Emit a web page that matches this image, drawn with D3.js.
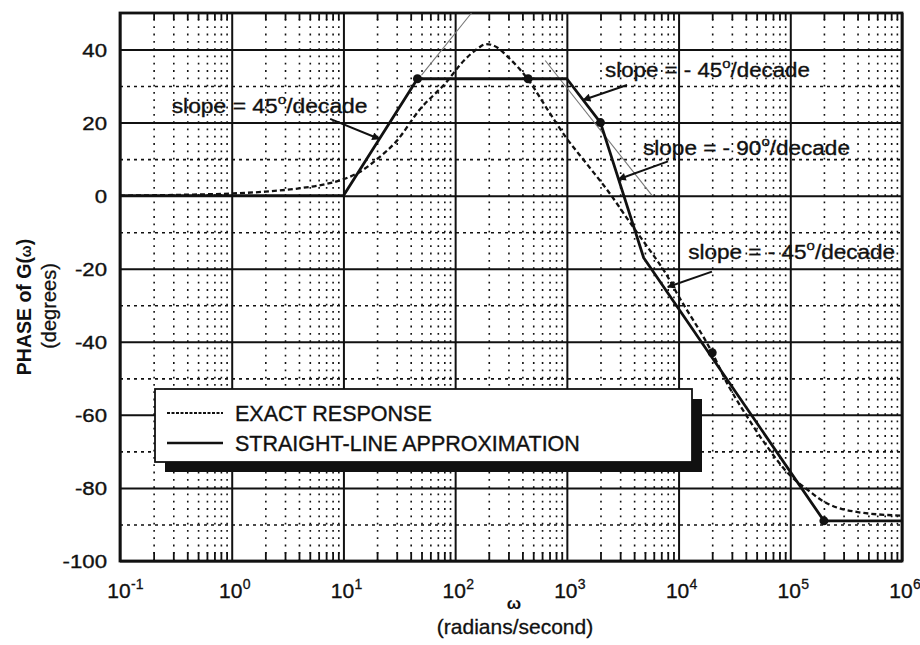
<!DOCTYPE html>
<html><head><meta charset="utf-8">
<script src="https://cdn.jsdelivr.net/npm/d3@7"></script>
<style>
body{margin:0;background:#fff}
svg{display:block}
text{font-family:"Liberation Sans",Arial,Helvetica,sans-serif;fill:#111}
</style>
</head><body>
<svg id="c" width="920" height="645"></svg>
<script>
// ---------- data ----------
const xDecades = [-1, 0, 1, 2, 3, 4, 5, 6];
const yTicks = [-100, -80, -60, -40, -20, 0, 20, 40];
const yMinorTicks = [-90, -70, -50, -30, -10, 10, 30];

const exactOmega = [0.1, 0.3, 1, 2, 4, 7, 10, 14, 20, 30, 48, 83, 120, 155, 190, 240, 285, 457, 690, 980, 1480, 2370, 3800, 5400, 7570, 10000, 20000, 27900, 36500, 59800, 95500, 150000, 189000, 380000, 1000000];
const exactPhase = [0, 0.2, 0.6, 1.1, 2, 3.2, 4.5, 6.5, 10, 15, 23.5, 31, 37, 40, 41.5, 40.5, 38.5, 31.5, 23, 16, 9, 1, -8, -14.5, -21, -27.5, -43, -52, -58, -68, -76, -81, -83.3, -86.5, -87.6];

const approxOmega = [0.1, 10, 46, 1000, 2000, 4870, 200000, 1000000];
const approxPhase = [0, 0, 32, 32, 20, -17, -89, -89];

const markerOmega = [46, 450, 2000, 20000, 200000];
const markerPhase = [32, 32, 20, -43, -89];

const guideAOmega = [50, 140];
const guideAPhase = [33, 50];
const guideBOmega = [640, 5800];
const guideBPhase = [37, 0];

const legendLabels = ["EXACT RESPONSE", "STRAIGHT-LINE APPROXIMATION"];
const slopeTexts = ["slope = 45", "slope = - 45", "slope = - 90", "slope = - 45"];

// ---------- layout ----------
const L = 120, R = 902, T = 13, B = 561;
const svg = d3.select("#c");
const x = d3.scaleLog().domain([0.1, 1e6]).range([L, R]);
const y = d3.scaleLinear().domain([-100, 50]).range([B, T]);
const ink = "#111";

// minor vertical dotted lines (2..9 in each decade)
const minorX = [];
xDecades.slice(0, -1).forEach(d => { for (let k = 2; k <= 9; k++) minorX.push(k * Math.pow(10, d)); });

const gMinorX = svg.append("g").attr("transform", `translate(0,${B})`)
  .call(d3.axisBottom(x).tickValues(minorX).tickSize(-(B - T)).tickFormat(""));
gMinorX.select(".domain").remove();
gMinorX.selectAll("line").attr("stroke", ink).attr("stroke-width", 1.6).attr("stroke-dasharray", "1.8,5.5");

// minor horizontal dotted lines
const gMinorY = svg.append("g").attr("transform", `translate(${L},0)`)
  .call(d3.axisLeft(y).tickValues(yMinorTicks).tickSize(-(R - L)).tickFormat(""));
gMinorY.select(".domain").remove();
gMinorY.selectAll("line").attr("stroke", ink).attr("stroke-width", 1.6).attr("stroke-dasharray", "3,4");

// minor tick marks at bottom and top edges
const gTickB = svg.append("g").attr("transform", `translate(0,${B})`)
  .call(d3.axisBottom(x).tickValues(minorX).tickSize(-9).tickFormat(""));
gTickB.select(".domain").remove();
gTickB.selectAll("line").attr("stroke", ink).attr("stroke-width", 1.8);
const gTickT = svg.append("g").attr("transform", `translate(0,${T})`)
  .call(d3.axisTop(x).tickValues(minorX).tickSize(-7).tickFormat(""));
gTickT.select(".domain").remove();
gTickT.selectAll("line").attr("stroke", ink).attr("stroke-width", 1.8);

// major grid
const majorX = xDecades.map(d => Math.pow(10, d));
const gMajX = svg.append("g").attr("transform", `translate(0,${B})`)
  .call(d3.axisBottom(x).tickValues(majorX).tickSize(-(B - T)).tickFormat(""));
gMajX.select(".domain").remove();
gMajX.selectAll("line").attr("stroke", ink).attr("stroke-width", 2);

const gMajY = svg.append("g").attr("transform", `translate(${L},0)`)
  .call(d3.axisLeft(y).tickValues(yTicks).tickSize(-(R - L)).tickFormat(""));
gMajY.select(".domain").remove();
gMajY.selectAll("line").attr("stroke", ink).attr("stroke-width", 2);

// frame
svg.append("rect").attr("x", L).attr("y", T).attr("width", R - L).attr("height", B - T)
  .attr("fill", "none").attr("stroke", ink).attr("stroke-width", 2.8);

// y tick labels
yTicks.forEach(v => {
  svg.append("text").attr("transform", `translate(${L - 13},${y(v) + 7}) scale(1.2,1)`)
    .attr("text-anchor", "end").attr("font-size", 18.5)
    .style("stroke", ink).style("stroke-width", 0.35)
    .text(v);
});

// x tick labels 10^n
xDecades.forEach(d => {
  const px = x(Math.pow(10, d));
  svg.append("text").attr("x", px - 1).attr("y", B + 37).attr("text-anchor", "middle")
    .attr("font-size", 21).style("stroke", ink).style("stroke-width", 0.35).text("10");
  svg.append("text").attr("x", px + 11).attr("y", B + 28).attr("text-anchor", "start")
    .attr("font-size", 14).style("stroke", ink).style("stroke-width", 0.3).text(d);
});

// axis titles
svg.append("text").attr("x", (L + R) / 2 + 3).attr("y", 609).attr("text-anchor", "middle")
  .attr("font-size", 17).attr("font-weight", "bold").text("ω");
svg.append("text").attr("x", 515).attr("y", 634).attr("text-anchor", "middle")
  .attr("font-size", 21).style("stroke", ink).style("stroke-width", 0.3).text("(radians/second)");

const yt = svg.append("text").attr("transform", "translate(31,307) rotate(-90)")
  .attr("text-anchor", "middle").attr("font-size", 19.5).attr("font-weight", "bold");
yt.append("tspan").text("PHASE of G(");
yt.append("tspan").attr("font-size", 14).text("ω");
yt.append("tspan").text(")");
svg.append("text").attr("transform", "translate(56,306) rotate(-90)")
  .attr("text-anchor", "middle").attr("font-size", 20).style("stroke", ink).style("stroke-width", 0.3)
  .text("(degrees)");

// faint construction lines
const lineGen = d3.line().x(d => x(d[0])).y(d => y(d[1]));
[[guideAOmega, guideAPhase], [guideBOmega, guideBPhase]].forEach(([w, p]) => {
  svg.append("path").datum(w.map((v, i) => [v, p[i]])).attr("d", lineGen)
    .attr("fill", "none").attr("stroke", "#777").attr("stroke-width", 1.1);
});

// exact response (dashed)
const exactData = exactOmega.map((v, i) => [v, exactPhase[i]]);
svg.append("path").datum(exactData)
  .attr("d", d3.line().x(d => x(d[0])).y(d => y(d[1])).curve(d3.curveMonotoneX))
  .attr("fill", "none").attr("stroke", ink).attr("stroke-width", 2.3).attr("stroke-dasharray", "5,3");

// straight-line approximation
const approxData = approxOmega.map((v, i) => [v, approxPhase[i]]);
svg.append("path").datum(approxData).attr("d", lineGen)
  .attr("fill", "none").attr("stroke", ink).attr("stroke-width", 2.8).attr("stroke-linejoin", "round");

// markers
svg.selectAll("circle.m").data(markerOmega.map((v, i) => [v, markerPhase[i]])).enter()
  .append("circle").attr("class", "m").attr("cx", d => x(d[0])).attr("cy", d => y(d[1]))
  .attr("r", 4.5).attr("fill", ink);

// arrow marker
svg.append("defs").append("marker").attr("id", "ah").attr("viewBox", "0 0 10 10")
  .attr("refX", 9).attr("refY", 5).attr("markerWidth", 14).attr("markerHeight", 8)
  .attr("markerUnits", "userSpaceOnUse").attr("orient", "auto")
  .append("path").attr("d", "M0,0 L10,5 L0,10 Z").attr("fill", ink);

// annotations (anchors in data coordinates)
const annotations = [
  {at: [0.29, 22.7], width: 196, from: [7.6, 21], to: [21, 15.5]},
  {at: [2200, 32.5], width: 205, from: [3460, 30.3], to: [1400, 26.2]},
  {at: [4810, 11.1], width: 207, from: [8050, 9.4], to: [2900, 4.5]},
  {at: [12200, -17.3], width: 207, from: [19900, -20.8], to: [8000, -25]}
];
annotations.forEach((a, i) => {
  svg.append("line").attr("x1", x(a.from[0])).attr("y1", y(a.from[1]))
    .attr("x2", x(a.to[0])).attr("y2", y(a.to[1]))
    .attr("stroke", ink).attr("stroke-width", 2).attr("marker-end", "url(#ah)");
  const g = svg.append("g").attr("transform", `translate(${x(a.at[0])},${y(a.at[1])})`);
  const t = g.append("text").attr("font-size", 19.5).style("stroke", ink).style("stroke-width", 0.35);
  t.append("tspan").text(slopeTexts[i]);
  t.append("tspan").attr("font-size", 13).attr("dy", -9).text("o");
  t.append("tspan").attr("dy", 9).text("/decade");
  const w = t.node().getBBox().width;
  t.attr("transform", `scale(${a.width / w},1)`);
});

// legend
const lg = svg.append("g").attr("transform", "translate(155,389)");
const lw = 537, lh = 73;
lg.append("rect").attr("x", 10).attr("y", 10).attr("width", lw).attr("height", lh).attr("fill", ink);
lg.append("rect").attr("x", 0).attr("y", 0).attr("width", lw).attr("height", lh)
  .attr("fill", "#fff").attr("stroke", ink).attr("stroke-width", 1.8);
legendLabels.forEach((lab, i) => {
  const yy = 24 + i * 30;
  lg.append("line").attr("x1", 12).attr("x2", 68).attr("y1", yy).attr("y2", yy)
    .attr("stroke", ink).attr("stroke-width", i === 0 ? 2 : 2.6)
    .attr("stroke-dasharray", i === 0 ? "3,1.5" : null);
  lg.append("text").attr("x", 80).attr("y", yy + 7.5).attr("font-size", 21.5)
    .style("stroke", ink).style("stroke-width", 0.35).text(lab);
});
</script>
</body></html>
